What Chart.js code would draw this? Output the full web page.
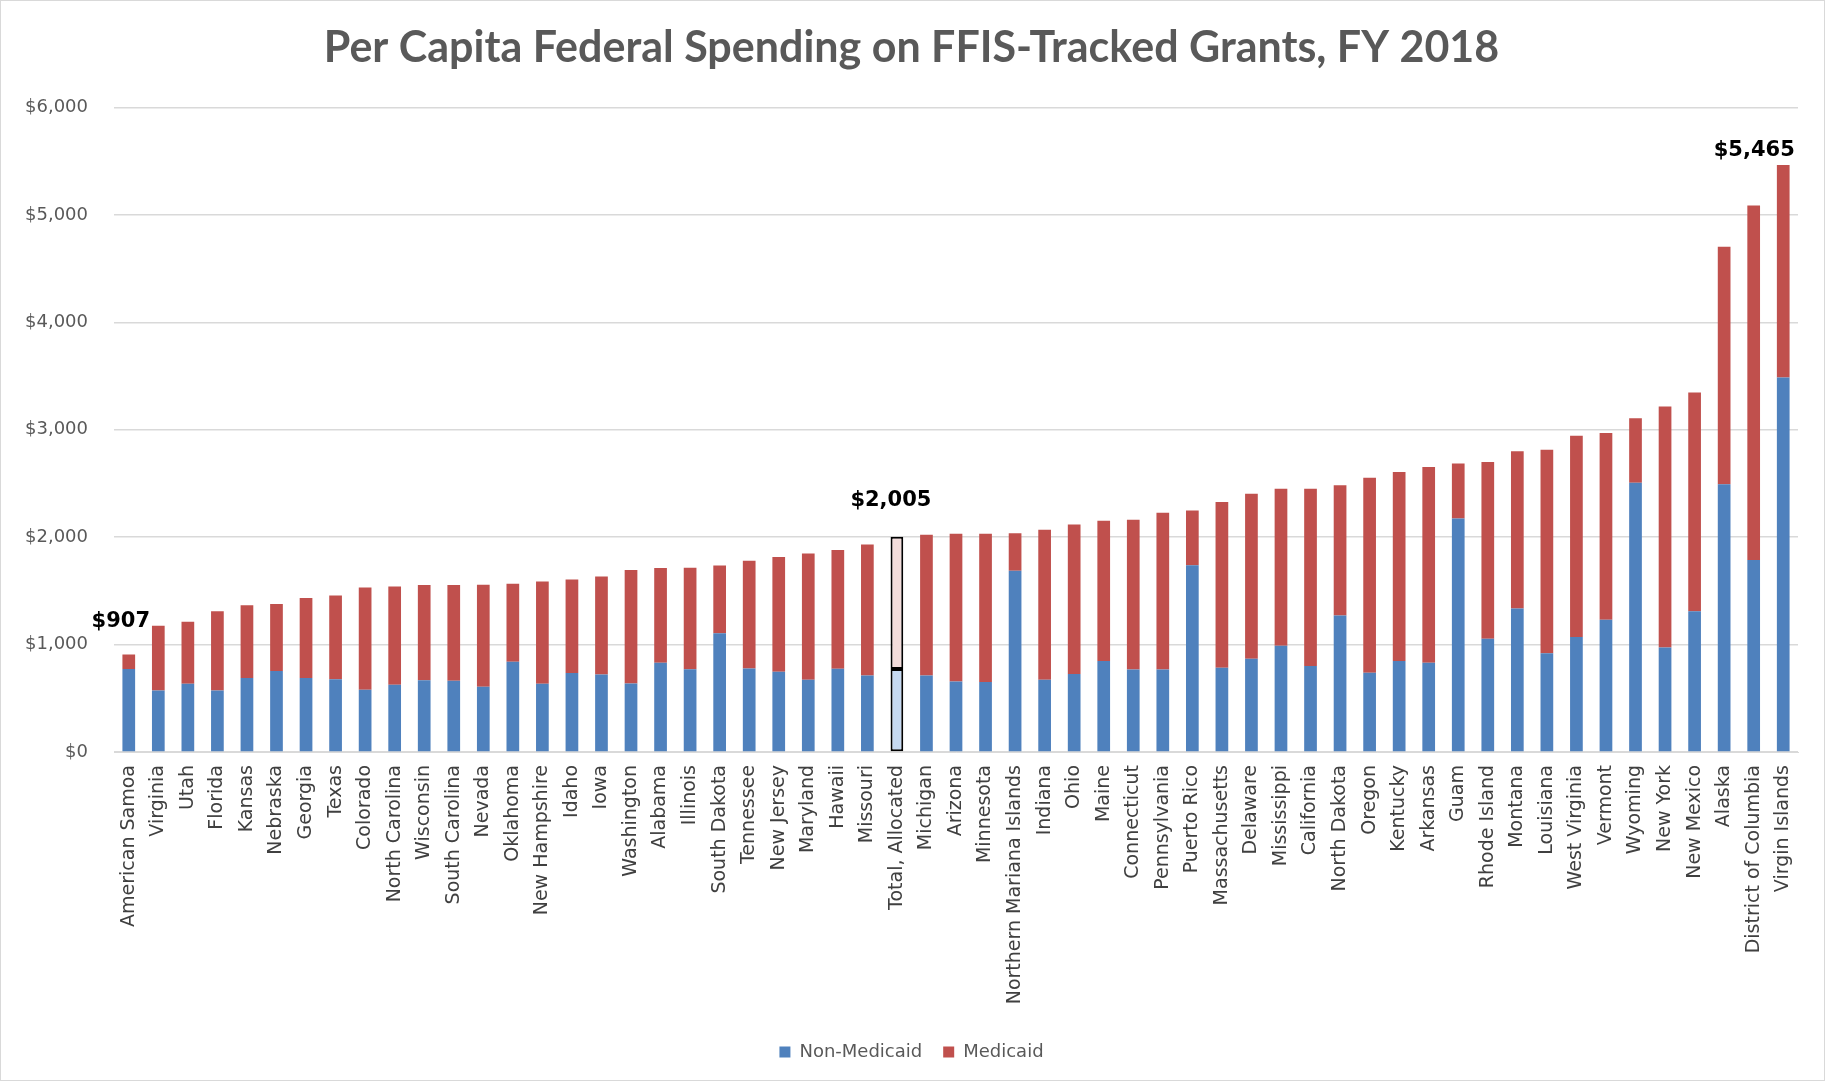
<!DOCTYPE html>
<html>
<head>
<meta charset="utf-8">
<script src="https://cdn.jsdelivr.net/npm/chart.js@4/dist/chart.umd.min.js"></script>
<style>
  html, body { margin: 0; padding: 0; background: #fff; }
  #wrap { position: relative; width: 1825px; height: 1081px; box-sizing: border-box; border: 1px solid #d9d9d9; }
  canvas { display: block; }
</style>
</head>
<body>
<div id="wrap"><canvas id="c" width="1823" height="1079"></canvas></div>
<script>
const categories = [
  "American Samoa","Virginia","Utah","Florida","Kansas","Nebraska","Georgia","Texas","Colorado",
  "North Carolina","Wisconsin","South Carolina","Nevada","Oklahoma","New Hampshire","Idaho","Iowa",
  "Washington","Alabama","Illinois","South Dakota","Tennessee","New Jersey","Maryland","Hawaii",
  "Missouri","Total, Allocated","Michigan","Arizona","Minnesota","Northern Mariana Islands","Indiana",
  "Ohio","Maine","Connecticut","Pennsylvania","Puerto Rico","Massachusetts","Delaware","Mississippi",
  "California","North Dakota","Oregon","Kentucky","Arkansas","Guam","Rhode Island","Montana",
  "Louisiana","West Virginia","Vermont","Wyoming","New York","New Mexico","Alaska",
  "District of Columbia","Virgin Islands"
];

const nonMedicaid = [
  772, 572, 636, 572, 690, 755, 690, 678, 580,
  627, 669, 664, 607, 840, 635, 736, 722,
  638, 832, 770, 1105, 778, 748, 673, 775,
  713, 772, 713, 657, 652, 1688, 673,
  727, 847, 768, 768, 1738, 784, 868, 990,
  800, 1272, 738, 848, 831, 2175, 1055, 1337,
  920, 1071, 1231, 2507, 972, 1310, 2494,
  1788, 3486
];

const medicaid = [
  135, 603, 576, 738, 677, 623, 743, 779, 951,
  915, 886, 891, 950, 726, 952, 869, 912,
  1056, 882, 946, 632, 1003, 1068, 1175, 1105,
  1220, 1233, 1309, 1374, 1379, 348, 1397,
  1392, 1306, 1395, 1460, 510, 1544, 1536, 1460,
  1650, 1212, 1816, 1759, 1822, 512, 1645, 1464,
  1895, 1874, 1739, 600, 2245, 2037, 2211,
  3301, 1979
];

const yTickValues = [0, 1000, 2000, 3000, 4000, 5000, 6000];
const highlightCategory = "Total, Allocated";
const labeledCategories = ["American Samoa", "Total, Allocated", "Virgin Islands"];

// styling (kept separate from data)
const labelOffsets = { "American Samoa": [-8, -33], "Total, Allocated": [-6, -36], "Virgin Islands": [-29, -15] };
const BLUE = "#4f81bd", RED = "#c0504d", LIGHT_BLUE = "#c6d9f1", LIGHT_RED = "#f2dcdb";

const hi = categories.indexOf(highlightCategory);
const colorsFor = (base, light) => categories.map((c, i) => i === hi ? light : base);
const borderColors = categories.map((c, i) => i === hi ? "#000" : "rgba(0,0,0,0)");
const borderWidths = categories.map((c, i) => i === hi ? 2 : 0);

const fmt = v => "$" + v.toLocaleString("en-US");

const totalLabels = {
  id: "totalLabels",
  afterDatasetsDraw(chart) {
    const ctx = chart.ctx;
    const meta = chart.getDatasetMeta(1);
    ctx.save();
    ctx.font = "bold 21px 'DejaVu Sans'";
    ctx.fillStyle = "#000";
    ctx.textAlign = "center";
    ctx.textBaseline = "middle";
    labeledCategories.forEach(name => {
      const i = categories.indexOf(name);
      const el = meta.data[i];
      const off = labelOffsets[name] || [0, -20];
      ctx.fillText(fmt(nonMedicaid[i] + medicaid[i]), el.x + off[0], el.y + off[1]);
    });
    ctx.restore();
  }
};

new Chart(document.getElementById("c"), {
  type: "bar",
  data: {
    labels: categories,
    datasets: [
      { label: "Non-Medicaid", data: nonMedicaid, backgroundColor: colorsFor(BLUE, LIGHT_BLUE),
        borderColor: borderColors, borderWidth: borderWidths, borderSkipped: false },
      { label: "Medicaid", data: medicaid, backgroundColor: colorsFor(RED, LIGHT_RED),
        borderColor: borderColors, borderWidth: borderWidths, borderSkipped: false }
    ]
  },
  options: {
    responsive: false,
    animation: false,
    devicePixelRatio: 1,
    layout: { padding: { left: 24, right: 26, top: 0, bottom: 9 } },
    datasets: { bar: { barPercentage: 0.43, categoryPercentage: 1.0 } },
    plugins: {
      title: {
        display: true,
        text: "Per Capita Federal Spending on FFIS-Tracked Grants, FY 2018",
        color: "#595959",
        font: { family: "Lato", size: 43, weight: "bold" },
        padding: { top: 21, bottom: 34 }
      },
      legend: {
        position: "bottom",
        labels: {
          color: "#595959",
          font: { family: "DejaVu Sans", size: 18 },
          boxWidth: 11, boxHeight: 11, padding: 21,
          useBorderRadius: false
        }
      },
      tooltip: { enabled: false }
    },
    scales: {
      x: {
        stacked: true,
        grid: { display: false, drawTicks: false },
        border: { display: true, color: "#d9d9d9" },
        ticks: {
          autoSkip: false, maxRotation: 90, minRotation: 90, padding: 13,
          color: "#404040", font: { family: "DejaVu Sans", size: 19 }
        },
        afterFit(s) { s.height = 270; }
      },
      y: {
        stacked: true,
        min: 0, max: 6000,
        afterBuildTicks(s) { s.ticks = yTickValues.map(v => ({ value: v })); },
        grid: { color: "#d9d9d9", lineWidth: 1.5, drawTicks: false },
        border: { display: false },
        ticks: {
          padding: 26, color: "#595959", font: { family: "DejaVu Sans", size: 18 },
          callback: v => fmt(v)
        },
        afterFit(s) { s.width = 89; }
      }
    }
  },
  plugins: [totalLabels]
});
</script>
</body>
</html>
